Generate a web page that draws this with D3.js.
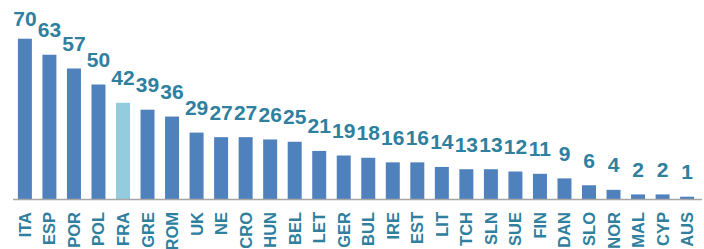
<!DOCTYPE html>
<html>
<head>
<meta charset="utf-8">
<script src="https://cdn.jsdelivr.net/npm/d3@7"></script>
<style>
  body { margin: 0; background: #fff; }
  svg { display: block; }
  text { font-family: "Liberation Sans", Arial, sans-serif; font-weight: bold; }
</style>
</head>
<body>
<div id="chart"></div>
<script>
// country codes and values
const countries = ["ITA", "ESP", "POR", "POL", "FRA", "GRE", "ROM", "UK", "NE", "CRO",
  "HUN", "BEL", "LET", "GER", "BUL", "IRE", "EST", "LIT", "TCH", "SLN",
  "SUE", "FIN", "DAN", "SLO", "NOR", "MAL", "CYP", "AUS"];
const values = [70, 63, 57, 50, 42, 39, 36, 29, 27, 27,
  26, 25, 21, 19, 18, 16, 16, 14, 13, 13,
  12, 11, 9, 6, 4, 2, 2, 1];
const highlight = ["FRA"];

const width = 704;
const height = 249;
const baseY = 199;

const svg = d3.select("#chart")
  .append("svg")
  .attr("width", width)
  .attr("height", height);

const x = d3.scaleBand()
  .domain(countries)
  .range([13, 699])
  .paddingInner(0.43)
  .paddingOuter(0.2);

const y = d3.scaleLinear()
  .domain([0, 70])
  .range([baseY, 38.7]);

const data = countries.map((c, i) => ({ name: c, value: values[i] }));

svg.selectAll("rect.bar")
  .data(data)
  .join("rect")
  .attr("class", "bar")
  .attr("x", d => x(d.name))
  .attr("y", d => y(d.value))
  .attr("width", x.bandwidth())
  .attr("height", d => baseY - y(d.value))
  .attr("fill", d => highlight.includes(d.name) ? "#93CDDD" : "#4F81BD");

// value labels on top (the tallest one is pushed down to stay inside)
svg.selectAll("text.val")
  .data(data)
  .join("text")
  .attr("class", "val")
  .attr("x", d => x(d.name) + x.bandwidth() / 2)
  .attr("y", d => Math.max(y(d.value) - 17.5, 26))
  .attr("text-anchor", "middle")
  .attr("font-size", 21)
  .attr("fill", "#2E809E")
  .text(d => d.value);

// baseline
svg.append("line")
  .attr("x1", 13)
  .attr("x2", 702)
  .attr("y1", baseY + 0.5)
  .attr("y2", baseY + 0.5)
  .attr("stroke", "#A6A6A6")
  .attr("stroke-width", 1.5);

// rotated category labels
svg.selectAll("text.cat")
  .data(data)
  .join("text")
  .attr("class", "cat")
  .attr("transform", d => `translate(${x(d.name) + x.bandwidth() / 2 + 6},212) rotate(-90)`)
  .attr("text-anchor", "end")
  .attr("font-size", 16.5)
  .attr("fill", "#2E809E")
  .text(d => d.name);
</script>
</body>
</html>
